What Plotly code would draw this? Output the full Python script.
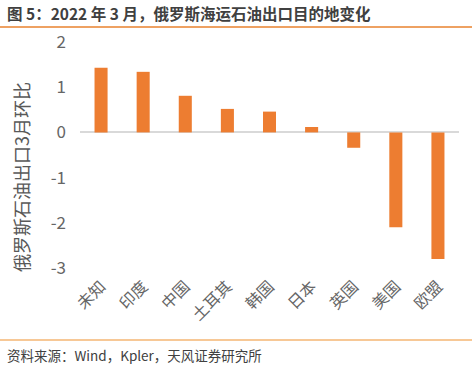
import plotly.graph_objects as go

categories = ["未知", "印度", "中国", "土耳其", "韩国", "日本", "英国", "美国", "欧盟"]
values = [1.43, 1.34, 0.81, 0.52, 0.46, 0.12, -0.34, -2.10, -2.80]
y_ticks = [2, 1, 0, -1, -2, -3]
y_ticklabels = ["2", "1", "0", "-1", "-2", "-3"]
y_title = "俄罗斯石油出口3月环比"
title_text = "图 5：2022 年 3 月，俄罗斯海运石油出口目的地变化"
source_text = "资料来源：Wind，Kpler，天风证券研究所"

FONT = "Noto Sans CJK SC, Liberation Sans, sans-serif"
W, H = 472, 365
L, R, T, B = 80, 13, 42, 97
PW, PH = W - L - R, H - T - B

def px(x):
    return (x - L) / PW

def py(y):
    return (H - B - y) / PH

fig = go.Figure(go.Bar(x=categories, y=values, marker=dict(color="#ED7D31", line=dict(width=0))))

fig.update_layout(
    width=W, height=H,
    margin=dict(l=L, r=R, t=T, b=B),
    paper_bgcolor="white", plot_bgcolor="white",
    bargap=0.69,
    showlegend=False,
    font=dict(family=FONT, color="#595959"),
    xaxis=dict(tickangle=-45, tickfont=dict(size=16, color="#666666"), automargin=False,
               showline=False, showgrid=False, ticks="", ticklabelstandoff=5),
    yaxis=dict(range=[-3, 2], tickvals=y_ticks, ticktext=y_ticklabels, automargin=False,
               tickfont=dict(size=17, color="#666666"),
               showgrid=False, zeroline=True, zerolinecolor="#d9d9d9", zerolinewidth=2,
               showline=False, ticks="", ticklabelstandoff=13),
    annotations=[
        dict(text=y_title, xref="paper", yref="paper", x=px(21), y=py(177), textangle=-90,
             showarrow=False, font=dict(size=18, color="#595959"), xanchor="center", yanchor="middle"),
        dict(text="<b>" + title_text + "</b>", xref="paper", yref="paper",
             x=px(5), y=py(13), xanchor="left", yanchor="middle", showarrow=False,
             font=dict(size=15.5, color="#404040")),
        dict(text=source_text, xref="paper", yref="paper",
             x=px(5), y=py(355), xanchor="left", yanchor="middle", showarrow=False,
             font=dict(size=13.5, color="#404040")),
    ],
    shapes=[
        dict(type="line", xref="paper", yref="paper", x0=px(0), x1=px(W),
             y0=py(27), y1=py(27), line=dict(color="#E8822E", width=1.5)),
        dict(type="line", xref="paper", yref="paper", x0=px(0), x1=px(W),
             y0=py(340), y1=py(340), line=dict(color="#F0922E", width=1.2)),
    ],
)

fig.write_html("out.html", config={"displayModeBar": False},
               post_script="document.body.style.margin='0';document.body.style.overflow='hidden';")
